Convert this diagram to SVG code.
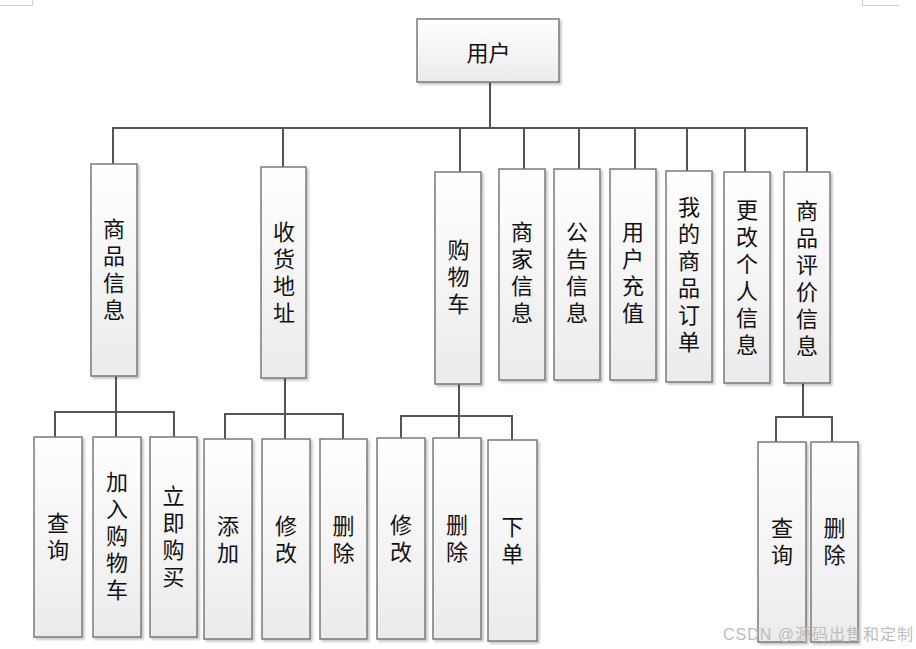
<svg xmlns="http://www.w3.org/2000/svg" width="916" height="649" viewBox="0 0 916 649">
<defs>
<linearGradient id="g" x1="0" y1="0" x2="0" y2="1">
<stop offset="0" stop-color="#ffffff"/>
<stop offset="1" stop-color="#ebebeb"/>
</linearGradient>
<filter id="sh" x="-20%" y="-20%" width="150%" height="150%">
<feDropShadow dx="2" dy="2" stdDeviation="1" flood-color="#000" flood-opacity="0.22"/>
</filter>
</defs>
<style>
.box{fill:url(#g);stroke:#7a7a7a;stroke-width:1.5;filter:url(#sh)}
.t{font-family:"Noto Sans CJK SC","Liberation Sans",sans-serif;font-size:22px;fill:#111;text-anchor:middle;dominant-baseline:central}
.v{font-family:"Noto Sans CJK SC","Liberation Sans",sans-serif;font-size:22px;fill:#111;text-anchor:middle;writing-mode:vertical-rl;letter-spacing:5px}
.c{fill:none;stroke:#555;stroke-width:2}
.mark{fill:none;stroke:#cfcfcf;stroke-width:1}
.wm{font-family:"Liberation Sans","Noto Sans CJK SC",sans-serif;font-size:16px;letter-spacing:1px;fill:#bdbdbd}
</style>
<rect width="916" height="649" fill="#fff"/>
<path class="mark" d="M0 5.5H32.5V0M862.5 0V5.5H899"/>

<g id="connectors">
<path class="c" d="M490 82V128M113 164V128H807V172M283 128V167M460 128V172M524 128V169M579 128V169M635 128V169M687 128V171M745 128V172"/>
<path class="c" d="M116 376V437M55 437V412H174V437"/>
<path class="c" d="M285 378V439M225 439V414H343V439"/>
<path class="c" d="M459 384V438M401 438V416H512V440"/>
<path class="c" d="M803 383V417M776 442V417H832V442"/>
</g>

<g id="n-root"><rect class="box" x="417" y="19" width="142" height="63"/><text class="t" x="488.5" y="51">用户</text></g>

<g id="n-spxx"><rect class="box" x="91" y="164" width="46" height="212"/><text class="v" x="114" y="272">商品信息</text></g>
<g id="n-shdz"><rect class="box" x="261" y="167" width="45" height="211"/><text class="v" x="284" y="275">收货地址</text></g>
<g id="n-gwc"><rect class="box" x="435" y="172" width="46" height="212"/><text class="v" x="458.5" y="279.5">购物车</text></g>
<g id="n-sjxx"><rect class="box" x="499" y="169" width="46" height="211"/><text class="v" x="522" y="275">商家信息</text></g>
<g id="n-ggxx"><rect class="box" x="554" y="169" width="46" height="211"/><text class="v" x="577" y="275">公告信息</text></g>
<g id="n-yhcz"><rect class="box" x="610" y="169" width="46" height="211"/><text class="v" x="633" y="275">用户充值</text></g>
<g id="n-wddd"><rect class="box" x="666" y="171" width="46" height="211"/><text class="v" x="689" y="277">我的商品订单</text></g>
<g id="n-ggrxx"><rect class="box" x="724" y="172" width="46" height="211"/><text class="v" x="747" y="280">更改个人信息</text></g>
<g id="n-pjxx"><rect class="box" x="784" y="172" width="46" height="211"/><text class="v" x="807" y="281">商品评价信息</text></g>

<g id="n-cx1"><rect class="box" x="34" y="437" width="48" height="200"/><text class="v" x="58" y="539">查询</text></g>
<g id="n-jrgwc"><rect class="box" x="93" y="437" width="48" height="200"/><text class="v" x="117" y="538.5">加入购物车</text></g>
<g id="n-ljgm"><rect class="box" x="150" y="437" width="47" height="200"/><text class="v" x="173.5" y="539">立即购买</text></g>

<g id="n-tj"><rect class="box" x="204" y="439" width="48" height="200"/><text class="v" x="228" y="542">添加</text></g>
<g id="n-xg1"><rect class="box" x="262" y="439" width="48" height="200"/><text class="v" x="286" y="542">修改</text></g>
<g id="n-sc1"><rect class="box" x="320" y="439" width="47" height="200"/><text class="v" x="343.5" y="542">删除</text></g>

<g id="n-xg2"><rect class="box" x="377" y="438" width="48" height="201"/><text class="v" x="401" y="541">修改</text></g>
<g id="n-sc2"><rect class="box" x="433" y="438" width="48" height="201"/><text class="v" x="457" y="541">删除</text></g>
<g id="n-xd"><rect class="box" x="488" y="440" width="49" height="201"/><text class="v" x="512.5" y="543">下单</text></g>

<g id="n-cx2"><rect class="box" x="758" y="442" width="48" height="200"/><text class="v" x="782" y="544">查询</text></g>
<g id="n-sc3"><rect class="box" x="811" y="442" width="47" height="200"/><text class="v" x="834.5" y="544">删除</text></g>

<text class="wm" x="723" y="640">CSDN @源码出售和定制</text>
</svg>
